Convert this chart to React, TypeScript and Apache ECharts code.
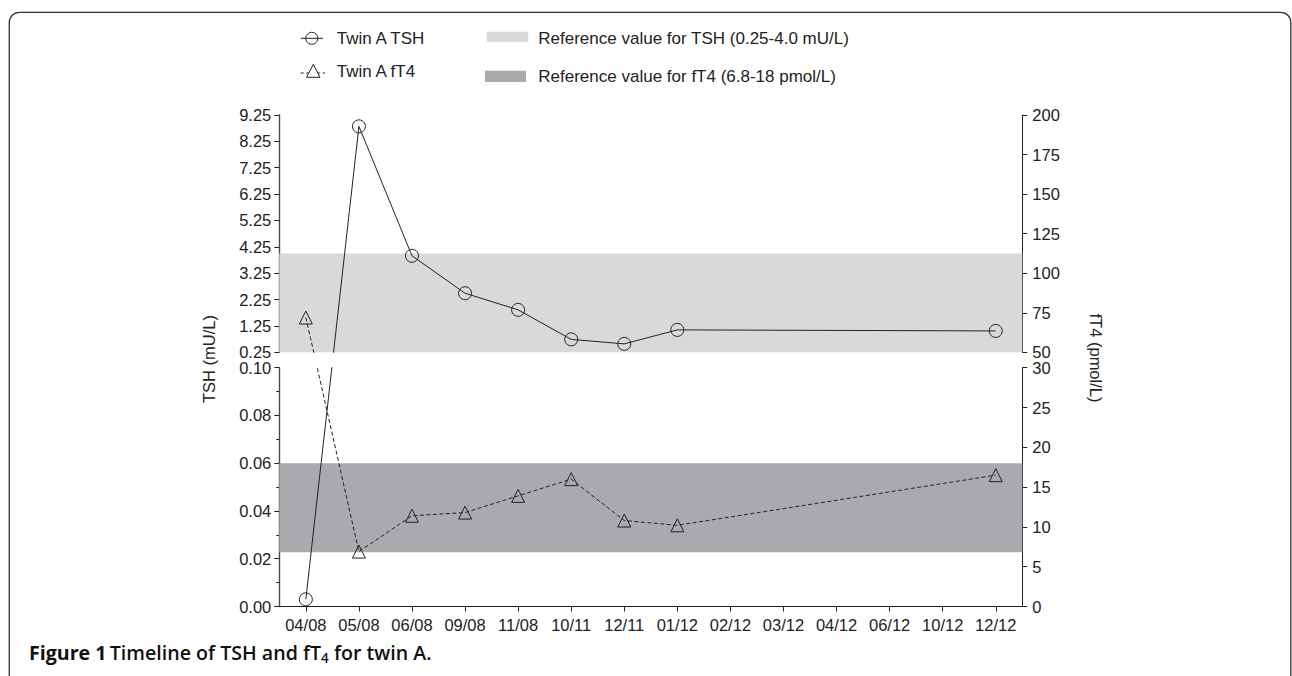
import React, { useEffect, useRef } from "react";
import * as echarts from "echarts";

// ---------- data ----------
const categories = [
  "04/08", "05/08", "06/08", "09/08", "11/08", "10/11", "12/11",
  "01/12", "02/12", "03/12", "04/12", "06/12", "10/12", "12/12",
];
const tshValues: (number | null)[] = [
  0.003, 8.82, 3.91, 2.49, 1.86, 0.74, 0.57, 1.1, null, null, null, null, null, 1.06,
];
const ft4Values: (number | null)[] = [
  72, 6.9, 11.4, 11.8, 13.9, 16.0, 10.8, 10.2, null, null, null, null, null, 16.5,
];
const tshUpperTicks = [0.25, 1.25, 2.25, 3.25, 4.25, 5.25, 6.25, 7.25, 8.25, 9.25];
const tshUpperRange = [0.25, 9.25];
const tshLowerRange = [0, 0.1];
const ft4UpperRange = [50, 200];
const ft4LowerRange = [0, 30];
const tshRef = [0.25, 4.0];
const ft4Ref = [6.8, 18];

const FONT = "'Liberation Sans', Arial, Helvetica, sans-serif";
const CAP_FONT = "'Open Sans', 'Noto Sans', sans-serif";
const INK = "#222";
const LIGHT = "#d8d9db";
const DARK = "#a9aaad";

type Item = [number, number] | { value: [number, number]; symbol: string };

function pointsOf(values: (number | null)[]) {
  const pts: { i: number; v: number }[] = [];
  values.forEach((v, i) => {
    if (v != null) pts.push({ i, v });
  });
  return pts;
}

function panelData(
  values: (number | null)[],
  isUpper: (v: number) => boolean,
  wantUpper: boolean,
  convert?: (v: number) => number
): Item[] {
  const pts = pointsOf(values);
  const out: Item[] = [];
  pts.forEach((p, k) => {
    if (isUpper(p.v) === wantUpper) {
      out.push([p.i, p.v]);
    } else if (convert) {
      const nb = [pts[k - 1], pts[k + 1]].some((q) => q && isUpper(q.v) === wantUpper);
      if (nb) out.push({ value: [p.i, convert(p.v)], symbol: "none" });
    }
  });
  return out;
}

const tshIsUpper = (v: number) => v >= tshUpperRange[0];
const ft4IsUpper = (v: number) => v >= ft4UpperRange[0];

export default function App() {
  const ref = useRef<HTMLDivElement>(null);
  useEffect(() => {
    document.body.style.margin = "0";
    const chart = echarts.init(ref.current!, null, { renderer: "svg" });

    const GL = 279.3;
    const GW = 743;
    const tickLabel = { color: INK, fontSize: 16.5, fontFamily: FONT };
    const yTickLabel = { ...tickLabel, lineHeight: 14 };
    const axisLineL = { show: true, lineStyle: { color: "#4a4a4a", width: 1.4 } };
    const axisLineR = { show: true, lineStyle: { color: INK, width: 1 } };
    const tick = { show: true, length: 5, lineStyle: { color: INK, width: 1 } };

    const symbolStyle = { color: "rgba(0,0,0,0)", borderColor: INK, borderWidth: 1 };
    const solid = { color: INK, width: 1, type: "solid" as const };
    const dashed = { color: INK, width: 1, type: [4, 2.5] as any };

    const legendY1 = 38.3;
    const legendY2 = 71;

    const option: any = {
      animation: false,
      backgroundColor: "#fff",
      grid: [
        { left: GL, top: 115, width: GW, height: 237.3, outerBoundsMode: "none" },
        { left: GL, top: 367.7, width: GW, height: 238.8, outerBoundsMode: "none" },
      ],
      xAxis: [
        {
          type: "category",
          gridIndex: 0,
          data: categories,
          show: false,
        },
        {
          type: "category",
          gridIndex: 1,
          data: categories,
          axisLine: { show: true, onZero: false, lineStyle: { color: INK, width: 1 } },
          axisTick: { ...tick, alignWithLabel: true },
          axisLabel: { ...tickLabel, margin: 10, interval: 0 },
          splitLine: { show: false },
        },
      ],
      yAxis: [
        {
          type: "value",
          gridIndex: 0,
          position: "left",
          min: tshUpperRange[0],
          max: tshUpperRange[1],
          axisLine: axisLineL,
          axisTick: { ...tick, customValues: tshUpperTicks },
          axisLabel: {
            ...yTickLabel,
            margin: 8,
            customValues: tshUpperTicks,
            formatter: (v: number) => v.toFixed(2),
          },
          splitLine: { show: false },
        },
        {
          type: "value",
          gridIndex: 0,
          position: "right",
          min: ft4UpperRange[0],
          max: ft4UpperRange[1],
          interval: 25,
          axisLine: axisLineR,
          axisTick: tick,
          axisLabel: { ...yTickLabel, margin: 10 },
          splitLine: { show: false },
        },
        {
          type: "value",
          gridIndex: 1,
          position: "left",
          min: tshLowerRange[0],
          max: tshLowerRange[1],
          interval: 0.02,
          axisLine: axisLineL,
          axisTick: tick,
          minorTick: { show: true, splitNumber: 2, length: 3, lineStyle: { color: INK, width: 1 } },
          axisLabel: { ...yTickLabel, margin: 8, formatter: (v: number) => v.toFixed(2) },
          splitLine: { show: false },
          minorSplitLine: { show: false },
        },
        {
          type: "value",
          gridIndex: 1,
          position: "right",
          min: ft4LowerRange[0],
          max: ft4LowerRange[1],
          interval: 5,
          axisLine: axisLineR,
          axisTick: tick,
          axisLabel: { ...yTickLabel, margin: 10 },
          splitLine: { show: false },
        },
      ],
      series: [
        {
          name: "Twin A TSH",
          type: "line",
          xAxisIndex: 0,
          yAxisIndex: 0,
          symbol: "circle",
          symbolSize: 13,
          itemStyle: symbolStyle,
          lineStyle: solid,
          clip: true,
          silent: true,
          z: 3,
          data: panelData(tshValues, tshIsUpper, true),
          markArea: {
            silent: true,
            itemStyle: { color: LIGHT, borderWidth: 0 },
            label: { show: false },
            data: [[{ yAxis: tshRef[0] }, { yAxis: tshRef[1] }]],
          },
        },
        {
          name: "Twin A TSH",
          type: "line",
          xAxisIndex: 1,
          yAxisIndex: 2,
          symbol: "circle",
          symbolSize: 13,
          itemStyle: symbolStyle,
          lineStyle: solid,
          clip: true,
          silent: true,
          z: 3,
          data: panelData(tshValues, tshIsUpper, false),
        },
        {
          name: "Twin A fT4",
          type: "line",
          xAxisIndex: 0,
          yAxisIndex: 1,
          symbol: "triangle",
          symbolSize: 13,
          itemStyle: symbolStyle,
          lineStyle: dashed,
          clip: true,
          silent: true,
          z: 3,
          data: panelData(ft4Values, ft4IsUpper, true),
        },
        {
          name: "Twin A fT4",
          type: "line",
          xAxisIndex: 1,
          yAxisIndex: 3,
          symbol: "triangle",
          symbolSize: 13,
          itemStyle: symbolStyle,
          lineStyle: dashed,
          clip: true,
          silent: true,
          z: 3,
          data: panelData(ft4Values, ft4IsUpper, false),
          markArea: {
            silent: true,
            itemStyle: { color: DARK, borderWidth: 0 },
            label: { show: false },
            data: [[{ yAxis: ft4Ref[0] }, { yAxis: ft4Ref[1] }]],
          },
        },
      ],
      graphic: [
        // frame
        {
          type: "rect",
          silent: true,
          shape: { x: 9.3, y: 12.3, width: 1281.5, height: 700, r: 10 },
          style: { fill: "none", stroke: "#333", lineWidth: 1.3 },
        },
        // legend: TSH line
        {
          type: "line",
          silent: true,
          shape: { x1: 300.7, y1: legendY1, x2: 323, y2: legendY1 },
          style: { stroke: INK, lineWidth: 1 },
        },
        {
          type: "circle",
          silent: true,
          shape: { cx: 311.8, cy: legendY1, r: 6 },
          style: { fill: "none", stroke: INK, lineWidth: 1 },
        },
        {
          type: "text",
          silent: true,
          x: 336.7,
          y: legendY1,
          style: { text: "Twin A TSH", fill: INK, fontSize: 17, fontFamily: FONT, verticalAlign: "middle" },
        },
        // legend: fT4 line
        {
          type: "line",
          silent: true,
          shape: { x1: 300.7, y1: legendY2 + 2, x2: 325, y2: legendY2 + 2 },
          style: { stroke: INK, lineWidth: 1, lineDash: [3, 2.5] },
        },
        {
          type: "polygon",
          silent: true,
          shape: { points: [[313.3, 64.3], [306.6, 77.3], [320, 77.3]] },
          style: { fill: "#fff", stroke: INK, lineWidth: 1 },
        },
        {
          type: "text",
          silent: true,
          x: 336.7,
          y: legendY2,
          style: { text: "Twin A fT4", fill: INK, fontSize: 17, fontFamily: FONT, verticalAlign: "middle" },
        },
        // legend: reference bands
        {
          type: "rect",
          silent: true,
          shape: { x: 486.7, y: 31.7, width: 41.6, height: 10 },
          style: { fill: LIGHT },
        },
        {
          type: "text",
          silent: true,
          x: 538.3,
          y: 38.5,
          style: {
            text: "Reference value for TSH (0.25-4.0 mU/L)",
            fill: INK,
            fontSize: 17,
            fontFamily: FONT,
            verticalAlign: "middle",
          },
        },
        {
          type: "rect",
          silent: true,
          shape: { x: 485, y: 70.7, width: 41, height: 11.3 },
          style: { fill: DARK },
        },
        {
          type: "text",
          silent: true,
          x: 538.3,
          y: 76.5,
          style: {
            text: "Reference value for fT4 (6.8-18 pmol/L)",
            fill: INK,
            fontSize: 17,
            fontFamily: FONT,
            verticalAlign: "middle",
          },
        },
        // axis names
        {
          type: "text",
          silent: true,
          x: 208.5,
          y: 359,
          rotation: Math.PI / 2,
          style: {
            text: "TSH (mU/L)",
            fill: INK,
            fontSize: 16.5,
            fontFamily: FONT,
            align: "center",
            verticalAlign: "middle",
          },
        },
        {
          type: "text",
          silent: true,
          x: 1096,
          y: 358,
          rotation: -Math.PI / 2,
          style: {
            text: "fT4 (pmol/L)",
            fill: INK,
            fontSize: 16.5,
            fontFamily: FONT,
            align: "center",
            verticalAlign: "middle",
          },
        },
        // caption
        {
          type: "text",
          silent: true,
          x: 29,
          y: 652,
          style: {
            text: "{b|Figure 1} {s|Timeline of TSH and fT}{sub|4}{s| for twin A.}",
            verticalAlign: "middle",
            rich: {
              b: { fontFamily: CAP_FONT, fontWeight: "bold", fontSize: 19.6, fill: "#111", lineHeight: 22 },
              s: { fontFamily: CAP_FONT, fontWeight: 600, fontSize: 19.6, fill: "#111", lineHeight: 22 },
              sub: {
                fontFamily: CAP_FONT,
                fontWeight: 600,
                fontSize: 13.5,
                fill: "#111",
                lineHeight: 13,
                padding: [11, 0, 0, 0],
              },
            },
          },
        },
      ],
    };

    chart.setOption(option);

    // bridge the segments that cross the axis break, using the chart's own scales
    const conv = (from: number, to: number) => (v: number) =>
      chart.convertFromPixel({ yAxisIndex: to } as any, chart.convertToPixel({ yAxisIndex: from } as any, v) as any) as any as number;

    chart.setOption({
      series: [
        { data: panelData(tshValues, tshIsUpper, true, conv(2, 0)) },
        { data: panelData(tshValues, tshIsUpper, false, conv(0, 2)) },
        { data: panelData(ft4Values, ft4IsUpper, true, conv(3, 1)) },
        { data: panelData(ft4Values, ft4IsUpper, false, conv(1, 3)) },
      ],
    });

    return () => chart.dispose();
  }, []);
  return <div ref={ref} style={{ width: 1292, height: 676 }} />;
}
